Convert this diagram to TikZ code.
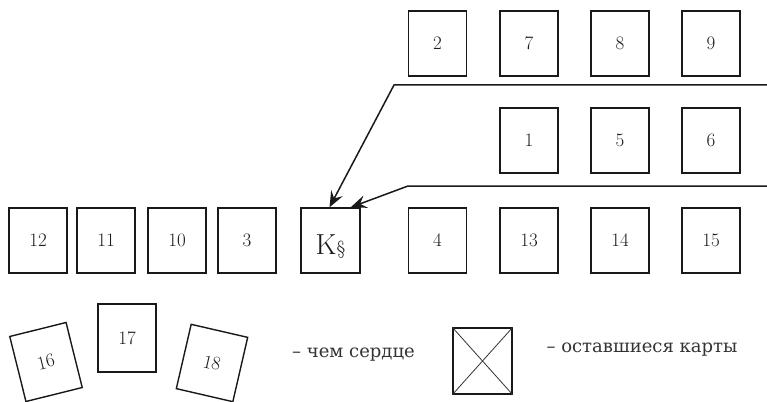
\documentclass[tikz,border=0pt]{standalone}
\usepackage{fontspec}
\newfontfamily\cyrfont{DejaVu Serif}
\usetikzlibrary{arrows.meta}
\tikzset{
  card/.style={draw=black!90, line width=1.4pt, minimum width=58pt, minimum height=65pt,
    inner sep=0pt, text=black!90, font=\fontsize{19}{21}\selectfont},
  link/.style={draw=black!90, line width=1.5pt,
    -{Stealth[length=16pt,width=13pt,inset=6pt]}},
  legend/.style={text=black!80, font=\cyrfont\fontsize{18}{20}\selectfont, inner sep=0pt}
}
\begin{document}
\begin{tikzpicture}[x=1pt,y=-1pt]
\useasboundingbox (0,0) rectangle (767,401);
% top row
\node[card] (c2) at (437.5,43.5) {2};
\node[card] (c7) at (529,43.5) {7};
\node[card] (c8) at (620,43.5) {8};
\node[card] (c9) at (711,43.5) {9};
% middle row
\node[card] (c1) at (529,140.5) {1};
\node[card] (c5) at (620,140.5) {5};
\node[card] (c6) at (711,140.5) {6};
% bottom row
\node[card] (c12) at (38,240.5) {12};
\node[card] (c11) at (106,240.5) {11};
\node[card] (c10) at (177,240.5) {10};
\node[card] (c3) at (247,240.5) {3};
\node[card, minimum width=59pt] (K) at (330.5,240.5) {};
\node[text=black!90, inner sep=0pt, anchor=base] (Klab) at (330.5,254) {\fontsize{29}{30}\selectfont K\fontsize{19}{20}\selectfont\S};
\node[card] (c4) at (437.5,240.5) {4};
\node[card] (c13) at (529,240.5) {13};
\node[card] (c14) at (620,240.5) {14};
\node[card] (c15) at (711,240.5) {15};
% connectors
\coordinate (e1) at (767,85);
\coordinate (b1) at (394,85);
\coordinate (e2) at (767,186);
\coordinate (b2) at (408,186);
\draw[link] (e1) -- (b1) -- ([xshift=-1pt]K.north);
\draw[link] (e2) -- (b2) -- ([xshift=-10pt]K.north east);
% scattered cards
\node[card, minimum height=67pt, rotate=14] (c16) at (46,362) {16};
\node[card, minimum height=68pt] (c17) at (127,338) {17};
\node[card, minimum height=66pt, rotate=-13] (c18) at (212,363) {18};
% legend
\node[legend] (l1) at (353.5,355) {– чем сердце};
\node[draw=black!90, line width=1.4pt, minimum width=59pt, minimum height=66pt, inner sep=0pt] (x) at (482.5,361) {};
\draw[black!80, line width=0.8pt] (x.north west) -- (x.south east);
\draw[black!80, line width=0.8pt] (x.north east) -- (x.south west);
\node[legend] (l2) at (642,350) {– оставшиеся карты};
\end{tikzpicture}
\end{document}
